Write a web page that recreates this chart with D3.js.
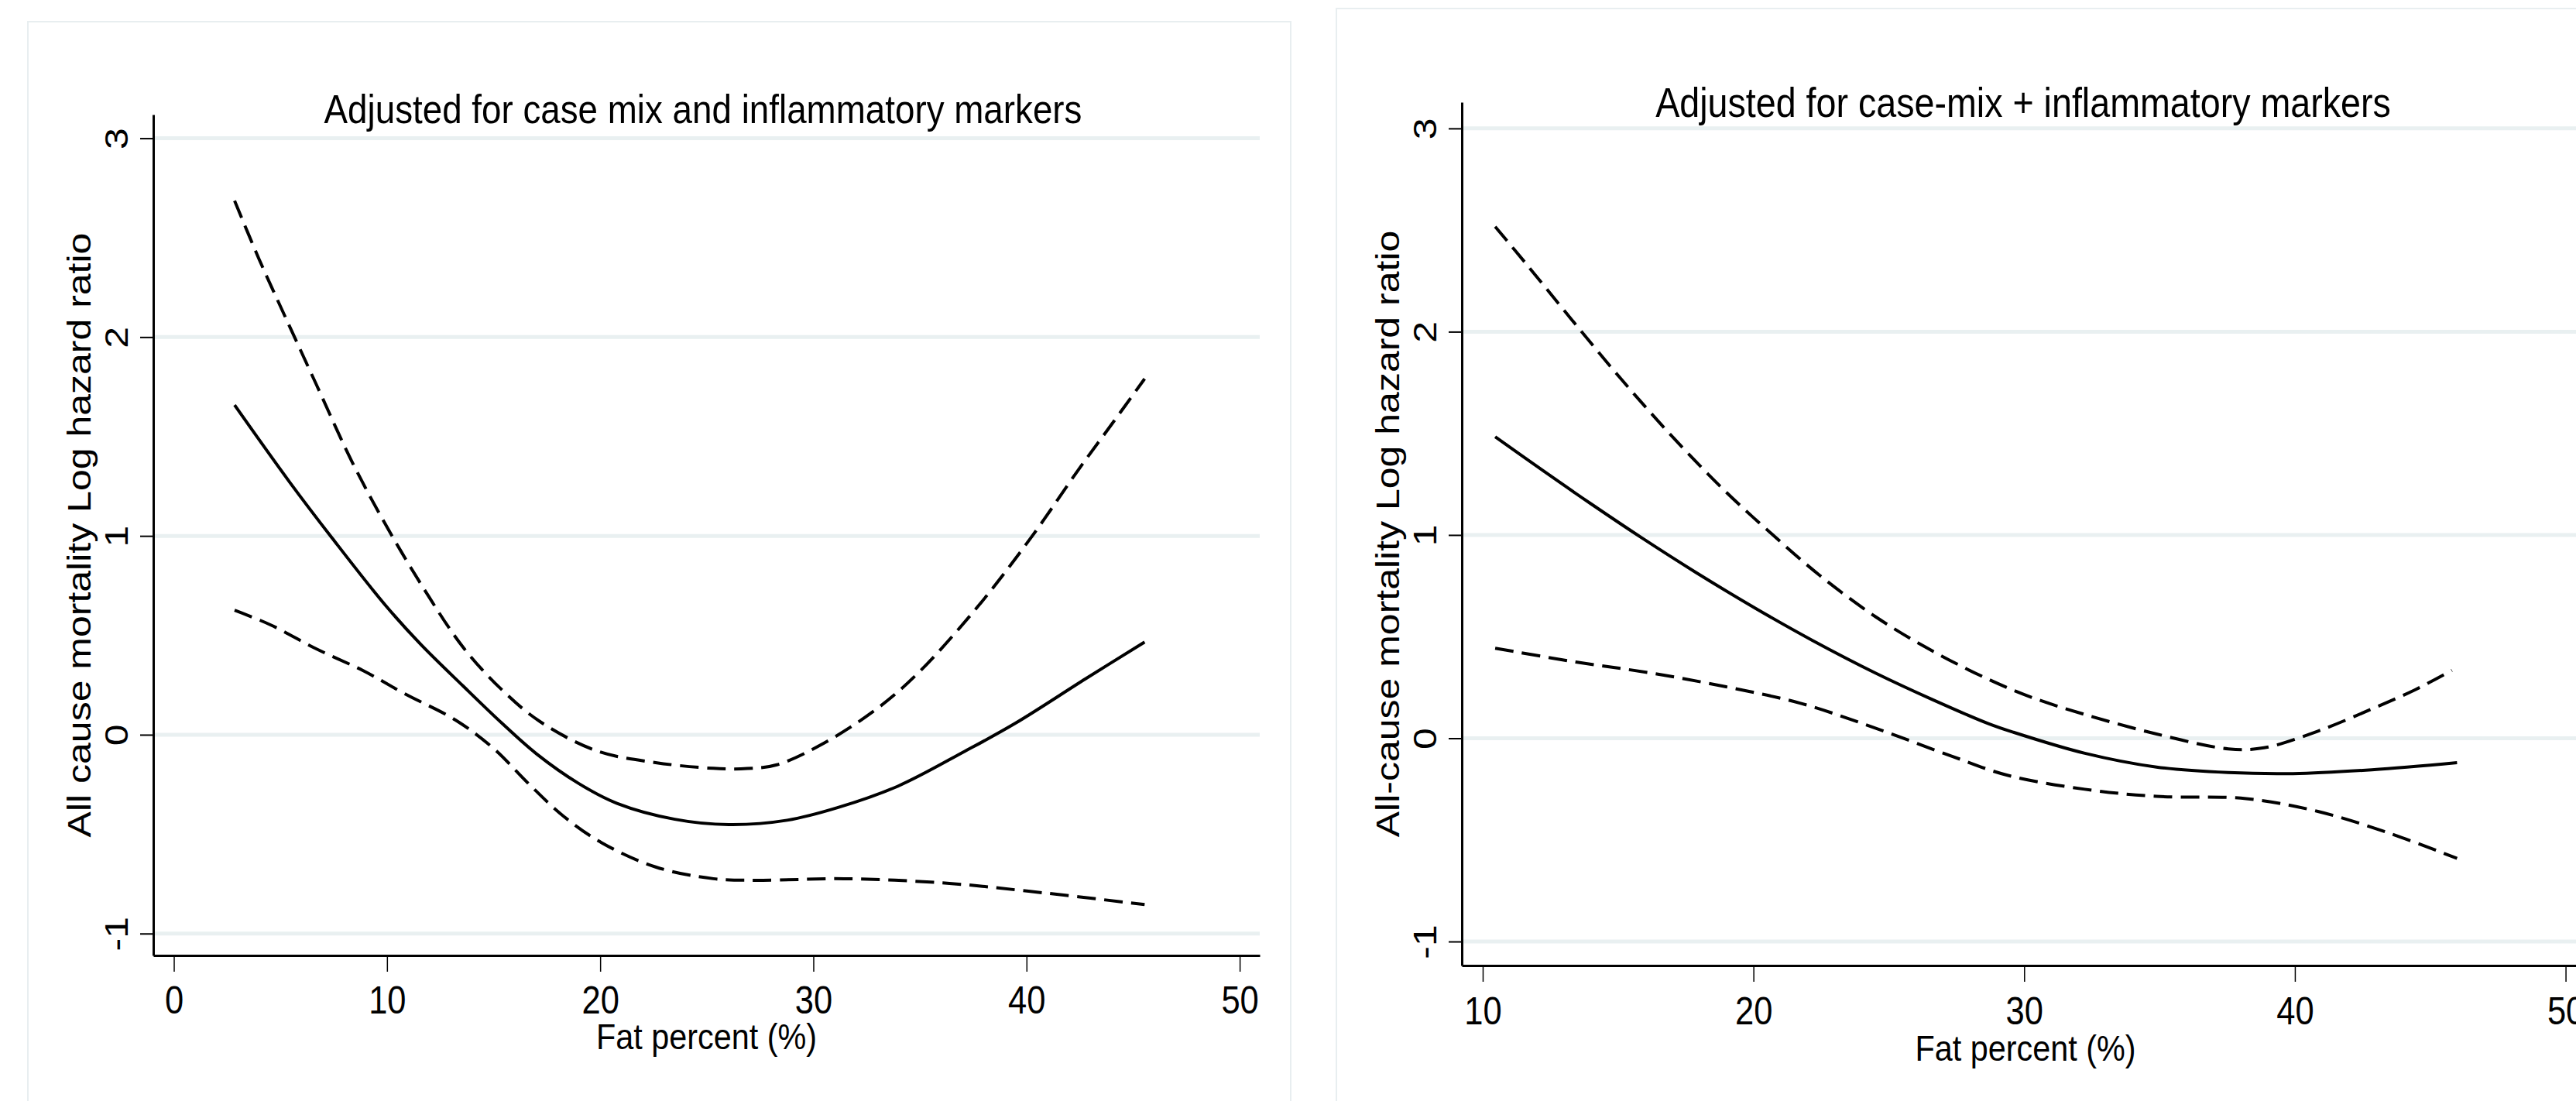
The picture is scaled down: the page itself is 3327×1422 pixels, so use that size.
<!DOCTYPE html>
<html><head><meta charset="utf-8">
<script src="https://cdn.jsdelivr.net/npm/d3@7"></script>
<style>
body{margin:0;background:#fff}
svg{display:block}
text{font-family:"Liberation Sans",Arial,Helvetica,sans-serif;fill:#000}
</style>
</head><body>
<svg id="chart" width="3327" height="1422"></svg>
<script>
// ---------- data ----------
const panelTitles = ["Adjusted for case mix and inflammatory markers", "Adjusted for case-mix + inflammatory markers"];
const yAxisTitles = ["All cause mortality Log hazard ratio", "All-cause mortality Log hazard ratio"];
const xAxisTitle = "Fat percent (%)";
const yTickValues = [-1, 0, 1, 2, 3];
const xTickValuesLeft = [0, 10, 20, 30, 40, 50];
const xTickValuesRight = [10, 20, 30, 40, 50];

// Left panel: [fat percent, log hazard ratio]
const leftEstimate = [[2.85,1.658],[5.43,1.271],[7.42,0.99],[9.95,0.648],[11.58,0.455],[13.57,0.245],[15.37,0.06],[17.0,-0.095],[18.99,-0.245],[20.79,-0.345],[23.5,-0.425],[26.03,-0.452],[28.77,-0.43],[31.13,-0.367],[33.96,-0.259],[37.11,-0.083],[39.48,0.058],[42.78,0.282],[45.54,0.466]];
const leftUpper = [[2.85,2.686],[3.99,2.394],[5.25,2.096],[6.70,1.758],[8.33,1.379],[9.95,1.054],[11.76,0.729],[13.57,0.44],[15.37,0.228],[17.18,0.066],[19.89,-0.083],[22.6,-0.14],[25.31,-0.169],[26.9,-0.17],[28.29,-0.151],[30.5,-0.042],[33.02,0.134],[34.91,0.31],[37.74,0.648],[40.27,1.0],[42.47,1.338],[44.04,1.568],[45.54,1.79]];
const leftLower = [[2.85,0.626],[4.53,0.553],[6.70,0.431],[8.87,0.323],[10.85,0.205],[13.2,0.075],[15.0,-0.069],[16.63,-0.245],[18.26,-0.408],[20.07,-0.543],[22.6,-0.665],[25.31,-0.724],[27.5,-0.732],[31.44,-0.724],[36.17,-0.746],[40.1,-0.787],[45.54,-0.854]];

// Right panel
const rightEstimate = [[10.46,1.483],[12.19,1.32],[13.99,1.154],[15.93,0.981],[17.87,0.816],[20.09,0.638],[22.17,0.482],[24.52,0.32],[26.6,0.191],[28.68,0.072],[29.59,0.03],[32.24,-0.074],[34.89,-0.142],[37.54,-0.169],[39.93,-0.174],[42.84,-0.155],[45.99,-0.12]];
const rightUpper = [[10.46,2.517],[11.64,2.328],[13.3,2.057],[15.1,1.769],[17.05,1.477],[18.99,1.211],[20.65,1.008],[22.46,0.80],[24.52,0.597],[26.6,0.43],[28.68,0.29],[30.3,0.2],[32.24,0.117],[34.89,0.021],[37.54,-0.052],[38.86,-0.047],[40.85,0.035],[42.84,0.144],[44.45,0.239],[45.8,0.334]];
const rightLower = [[10.46,0.443],[13.44,0.375],[16.21,0.321],[18.99,0.253],[21.77,0.171],[24.52,0.049],[27.3,-0.087],[29.38,-0.182],[32.24,-0.251],[34.89,-0.286],[38.2,-0.297],[40.85,-0.36],[43.51,-0.468],[45.99,-0.591]];

// ---------- layout ----------
const svg = d3.select("#chart");
const GRID = "#e9f0f1";
const BORDER = "#e8eef0";

const panels = [
  {
    frame: {x: 36, y: 28, w: 1631, h: 1500},
    plot: {x0: 198, x1: 1627, y0: 148, y1: 1234},
    xDomain: [-0.963, 50.94], yDomain: [-1.11, 3.119],
    xTicks: xTickValuesLeft,
    title: panelTitles[0], titleX: 908, titleY: 159, titleSize: 52,
    yTitle: yAxisTitles[0], yTitleX: 117,
    yLabelX: 165, xLabelDy: 75, xTitleDy: 121,
    series: [leftEstimate, leftUpper, leftLower]
  },
  {
    frame: {x: 1726, y: 11, w: 1700, h: 1500},
    plot: {x0: 1888, x1: 3344, y0: 132, y1: 1247},
    xDomain: [9.228, 50.87], yDomain: [-1.118, 3.129],
    xTicks: xTickValuesRight,
    title: panelTitles[1], titleX: 2613, titleY: 151, titleSize: 53,
    yTitle: yAxisTitles[1], yTitleX: 1807,
    yLabelX: 1855, xLabelDy: 76, xTitleDy: 123,
    series: [rightEstimate, rightUpper, rightLower]
  }
];

panels.forEach(p => {
  const g = svg.append("g");
  g.append("rect")
    .attr("x", p.frame.x).attr("y", p.frame.y)
    .attr("width", p.frame.w).attr("height", p.frame.h)
    .attr("fill", "#fff").attr("stroke", BORDER).attr("stroke-width", 2);

  const x = d3.scaleLinear().domain(p.xDomain).range([p.plot.x0, p.plot.x1]);
  const y = d3.scaleLinear().domain(p.yDomain).range([p.plot.y1, p.plot.y0]);

  g.append("g").selectAll("line").data(yTickValues).join("line")
    .attr("x1", p.plot.x0).attr("x2", p.plot.x1)
    .attr("y1", d => y(d)).attr("y2", d => y(d))
    .attr("stroke", GRID).attr("stroke-width", 5);

  g.append("text")
    .attr("transform", `translate(${p.titleX},${p.titleY}) scale(0.88,1)`)
    .attr("text-anchor", "middle")
    .attr("font-size", p.titleSize)
    .text(p.title);

  const yAxis = d3.axisLeft(y).tickValues(yTickValues).tickSize(17).tickSizeOuter(0).tickFormat(d3.format("d"));
  const ya = g.append("g").attr("transform", `translate(${p.plot.x0},0)`).call(yAxis);
  ya.select(".domain").attr("stroke", "#000").attr("stroke-width", 3);
  ya.selectAll(".tick line").attr("stroke", "#000").attr("stroke-width", 2);
  ya.selectAll(".tick text")
    .attr("x", null).attr("dy", null)
    .attr("transform", `translate(${p.yLabelX - p.plot.x0},0) rotate(-90) scale(1,0.86)`)
    .attr("text-anchor", "middle")
    .attr("font-size", 50)
    .attr("font-family", null)
    .text(d => d === -1 ? "-1" : String(d));

  const xAxis = d3.axisBottom(x).tickValues(p.xTicks).tickSize(21).tickSizeOuter(0).tickFormat(d3.format("d"));
  const xa = g.append("g").attr("transform", `translate(0,${p.plot.y1})`).call(xAxis);
  xa.select(".domain").attr("stroke", "#000").attr("stroke-width", 3);
  xa.selectAll(".tick line").attr("stroke", "#000").attr("stroke-width", 1.5);
  xa.selectAll(".tick text")
    .attr("y", null).attr("dy", null)
    .attr("transform", `translate(0,${p.xLabelDy}) scale(0.87,1)`)
    .attr("text-anchor", "middle")
    .attr("font-size", 50)
    .attr("font-family", null);
  svg.selectAll(".tick text").attr("fill", "#000");

  g.append("text")
    .attr("transform", `translate(${(p.plot.x0 + p.plot.x1) / 2},${p.plot.y1 + p.xTitleDy}) scale(0.88,1)`)
    .attr("text-anchor", "middle")
    .attr("font-size", 47)
    .text(xAxisTitle);
  g.append("text")
    .attr("transform", `translate(${p.yTitleX},${(p.plot.y0 + p.plot.y1) / 2}) rotate(-90) scale(1,0.86)`)
    .attr("text-anchor", "middle")
    .attr("font-size", 50)
    .text(p.yTitle);

  const line = d3.line().x(d => x(d[0])).y(d => y(d[1])).curve(d3.curveCatmullRom.alpha(0.5));
  p.series.forEach((s, i) => {
    g.append("path")
      .datum(s)
      .attr("d", line)
      .attr("fill", "none")
      .attr("stroke", "#000")
      .attr("stroke-width", 4)
      .attr("stroke-dasharray", i === 0 ? null : "24,11");
  });
});
</script>
</body></html>
